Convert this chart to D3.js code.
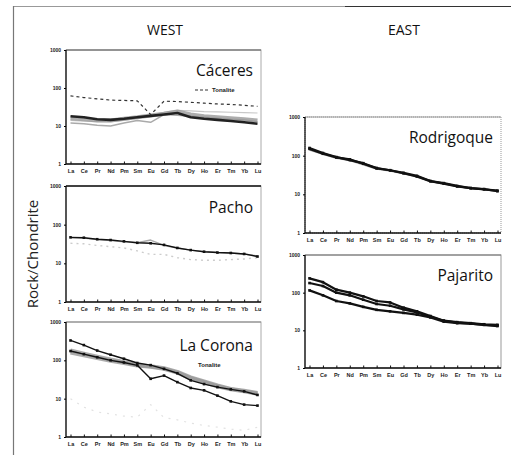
<!DOCTYPE html>
<html>
<head>
<meta charset="utf-8">
<script src="https://cdn.jsdelivr.net/npm/d3@7"></script>
<style>
  body { margin: 0; background: #fff; }
  svg { display: block; font-family: "Open Sans", "Noto Sans", sans-serif; }
</style>
</head>
<body>
<div id="chart"></div>
<script>
// REE elements, chondrite normalised
const elements = ["La","Ce","Pr","Nd","Pm","Sm","Eu","Gd","Tb","Dy","Ho","Er","Tm","Yb","Lu"];
const yTicks = [1, 10, 100, 1000];

// Cáceres
const caceresTonalite = [62,56,52,48,47,46,20,45,44,42,40,38,37,35,33];
const caceresA = [18,17,15,14.5,15.5,17,18.5,20,22,17,15.5,14.5,13.5,12.5,11.5];
const caceresB = [16,15,14,14,15.5,17,19,21,24,20,18,17,16,15,14];
const caceresC = [12,11.5,10.5,10,12,14,12.5,20,19,18,17,16,15,14.5,13];
const caceresD = [14,13.5,13,13,14,16,19,23,26,25,24,23.5,23,22.5,22];

// Pacho
const pachoA = [47,46,42,40,37,34,33,30,25,22,20,19,18.5,17.5,15];
const pachoB = [46,45,41,39,36,34,40,29,25,22,20,19,18.5,17.5,15.5];
const pachoLight = [33,32,29,27,25,21,17,17,14,12.5,12,12,12.5,13,14];

// La Corona
const coronaUpper = [330,250,180,140,110,85,75,60,46,30,24,20,17.5,15.5,12.5];
const coronaBand1 = [180,150,125,105,90,75,70,62,50,36,28,22,18,16,14];
const coronaBand2 = [160,135,115,98,85,73,68,60,48,34,27,21,17.5,15.5,13.5];
const coronaLower = [175,145,120,100,88,74,33,40,27,19,16.5,12,8.5,7,6.6];
const coronaTonalite = [10,6,4.5,4,3.5,3.3,7,3.2,2.8,2.3,2,1.8,1.6,1.5,1.8];

// Rodrigoque
const rodrigoqueA = [158,117,92,77,64,48,42,36,30,22,19.5,16.5,14.5,13.7,12];
const rodrigoqueB = [150,112,90,80,62,47,42,35,29,22,19,16,14.5,13.5,12.5];
const rodrigoqueC = [140,108,85,75,58,45,40,34,28,21,18.5,16,14,13.5,12.8];

// Pajarito
const pajaritoA = [240,190,120,100,80,60,55,40,32,24,18,16.5,15.5,14.5,14];
const pajaritoB = [180,150,100,85,65,50,45,36,30,23,18,16,15,14,13];
const pajaritoC = [115,85,60,52,42,35,32,29,26,22,17,15.5,15,14,13.5];

const W = 511, H = 455;
const svg = d3.select("#chart").append("svg")
  .attr("width", W).attr("height", H);

// outer frame
svg.append("line").attr("x1", 13).attr("x2", 345).attr("y1", 6.5).attr("y2", 6.5)
  .attr("stroke", "#999").attr("stroke-width", 1.2);
svg.append("line").attr("x1", 345).attr("x2", 511).attr("y1", 6.5).attr("y2", 6.5)
  .attr("stroke", "#333").attr("stroke-width", 1.2);
svg.append("line").attr("x1", 13.5).attr("x2", 13.5).attr("y1", 6).attr("y2", H)
  .attr("stroke", "#777").attr("stroke-width", 1.2);

svg.append("text").attr("x", 165).attr("y", 35).attr("text-anchor", "middle")
  .style("font-size", "14px").attr("fill", "#111").text("WEST");
svg.append("text").attr("x", 404).attr("y", 35).attr("text-anchor", "middle")
  .style("font-size", "14px").attr("fill", "#111").text("EAST");

svg.append("text")
  .attr("transform", "translate(38,254) rotate(-90)")
  .attr("text-anchor", "middle")
  .style("font-size", "15px").attr("fill", "#222")
  .text("Rock/Chondrite");

const styles = {
  black:  { stroke: "#111", width: 1.4, marker: true },
  heavy:  { stroke: "#111", width: 2.2, marker: true },
  thick:  { stroke: "#222", width: 2.6, marker: false },
  band:   { stroke: "#999", width: 4, marker: false, opacity: 0.8 },
  gray:   { stroke: "#aaa", width: 1.4, marker: false },
  light:  { stroke: "#c8c8c8", width: 1.2, marker: false },
  dashed: { stroke: "#333", width: 1.2, marker: false, dash: "3,3" },
  lightDash: { stroke: "#ccc", width: 1.4, marker: false, dash: "2,4" },
  faint:  { stroke: "#e2e2e2", width: 1.2, marker: false, dash: "2,6" }
};

function drawPanel(cfg) {
  const g = svg.append("g");
  const x = d3.scalePoint().domain(elements).range([cfg.x0 + 4.5, cfg.x1 - 3.5]);
  const y = d3.scaleLog().domain([1, 1000]).range([cfg.y1, cfg.y0]);

  g.append("rect")
    .attr("x", cfg.x0).attr("y", cfg.y0)
    .attr("width", cfg.x1 - cfg.x0).attr("height", cfg.y1 - cfg.y0)
    .attr("fill", "#fff")
    .attr("stroke", cfg.frame).attr("stroke-width", 1)
    .attr("stroke-dasharray", cfg.frameDash || null);
  g.append("line").attr("x1", cfg.x0).attr("x2", cfg.x1)
    .attr("y1", cfg.y0).attr("y2", cfg.y0)
    .attr("stroke", cfg.topLine).attr("stroke-width", cfg.topWidth);

  const line = d3.line()
    .x((d, i) => x(elements[i]))
    .y(d => y(d));

  cfg.series.forEach(s => {
    const st = styles[s.style];
    g.append("path").datum(s.values)
      .attr("d", line)
      .attr("fill", "none")
      .attr("stroke", st.stroke)
      .attr("stroke-width", st.width)
      .attr("stroke-opacity", st.opacity || 1)
      .attr("stroke-dasharray", st.dash || null)
      .attr("stroke-linejoin", "round");
    if (st.marker) {
      g.selectAll(null).data(s.values).enter().append("rect")
        .attr("x", (d, i) => x(elements[i]) - 1.3)
        .attr("y", d => y(d) - 1.3)
        .attr("width", 2.6).attr("height", 2.6)
        .attr("fill", st.stroke);
    }
  });

  // axes
  const xAxis = d3.axisBottom(x).tickSize(-2.5).tickPadding(5);
  const gx = g.append("g").attr("transform", `translate(0,${cfg.y1})`).call(xAxis);
  gx.select(".domain").attr("d", `M${cfg.x0},0H${cfg.x1}`).attr("stroke", "#111").attr("stroke-width", 1.3);
  gx.selectAll(".tick line").attr("stroke", "#111");
  gx.selectAll("text").style("font-size", "5.5px").style("font-weight", "bold")
    .attr("fill", "#222").attr("font-family", "Liberation Sans, Arial, sans-serif");

  const yAxis = d3.axisLeft(y).tickValues(yTicks).tickFormat(d3.format("d")).tickSize(2).tickPadding(3);
  const gy = g.append("g").attr("transform", `translate(${cfg.x0},0)`).call(yAxis);
  gy.select(".domain").attr("d", `M0,${cfg.y1}V${cfg.y0}`).attr("stroke", "#111").attr("stroke-width", 1.3);
  gy.selectAll("text").style("font-size", "5px").style("font-weight", "bold")
    .attr("fill", "#222").attr("font-family", "Liberation Sans, Arial, sans-serif");

  g.append("text").attr("x", cfg.x1 - 8).attr("y", cfg.titleY)
    .attr("text-anchor", "end").style("font-size", "15.5px").attr("fill", "#111")
    .text(cfg.title);

  if (cfg.legend) {
    const lx = cfg.legend.x, ly = cfg.legend.y;
    if (cfg.legend.dash) {
      g.append("line").attr("x1", lx - 17).attr("x2", lx - 3).attr("y1", ly - 2).attr("y2", ly - 2)
        .attr("stroke", "#333").attr("stroke-width", 1.2).attr("stroke-dasharray", "3,2");
    }
    g.append("text").attr("x", lx).attr("y", ly)
      .style("font-size", "6px").style("font-weight", "bold").style("fill", "#222")
      .attr("font-family", "Liberation Sans, Arial, sans-serif")
      .text("Tonalite");
  }
}

drawPanel({
  title: "Cáceres", titleY: 76, x0: 66, x1: 261, y0: 50, y1: 164,
  frame: "#aaa", topLine: "#555", topWidth: 1.2,
  legend: { x: 212, y: 92, dash: true },
  series: [
    { values: caceresD, style: "light" },
    { values: caceresC, style: "gray" },
    { values: caceresB, style: "band" },
    { values: caceresA, style: "thick" },
    { values: caceresTonalite, style: "dashed" }
  ]
});

drawPanel({
  title: "Pacho", titleY: 213, x0: 66, x1: 261, y0: 186, y1: 302,
  frame: "#aaa", topLine: "#111", topWidth: 1.6,
  series: [
    { values: pachoLight, style: "lightDash" },
    { values: pachoB, style: "gray" },
    { values: pachoA, style: "black" }
  ]
});

drawPanel({
  title: "La Corona", titleY: 351, x0: 66, x1: 261, y0: 322, y1: 437,
  frame: "#aaa", topLine: "#888", topWidth: 1.2,
  legend: { x: 198, y: 367, dash: false },
  series: [
    { values: coronaTonalite, style: "faint" },
    { values: coronaBand1, style: "band" },
    { values: coronaBand2, style: "band" },
    { values: coronaLower, style: "black" },
    { values: coronaUpper, style: "black" }
  ]
});

drawPanel({
  title: "Rodrigoque", titleY: 143, x0: 305, x1: 501, y0: 117, y1: 233,
  frame: "#999", frameDash: "1,1", topLine: "#999", topWidth: 1,
  series: [
    { values: rodrigoqueC, style: "gray" },
    { values: rodrigoqueB, style: "heavy" },
    { values: rodrigoqueA, style: "heavy" }
  ]
});

drawPanel({
  title: "Pajarito", titleY: 281, x0: 305, x1: 501, y0: 255, y1: 368,
  frame: "#999", frameDash: null, topLine: "#777", topWidth: 1,
  series: [
    { values: pajaritoA, style: "heavy" },
    { values: pajaritoB, style: "heavy" },
    { values: pajaritoC, style: "heavy" }
  ]
});
</script>
</body>
</html>
